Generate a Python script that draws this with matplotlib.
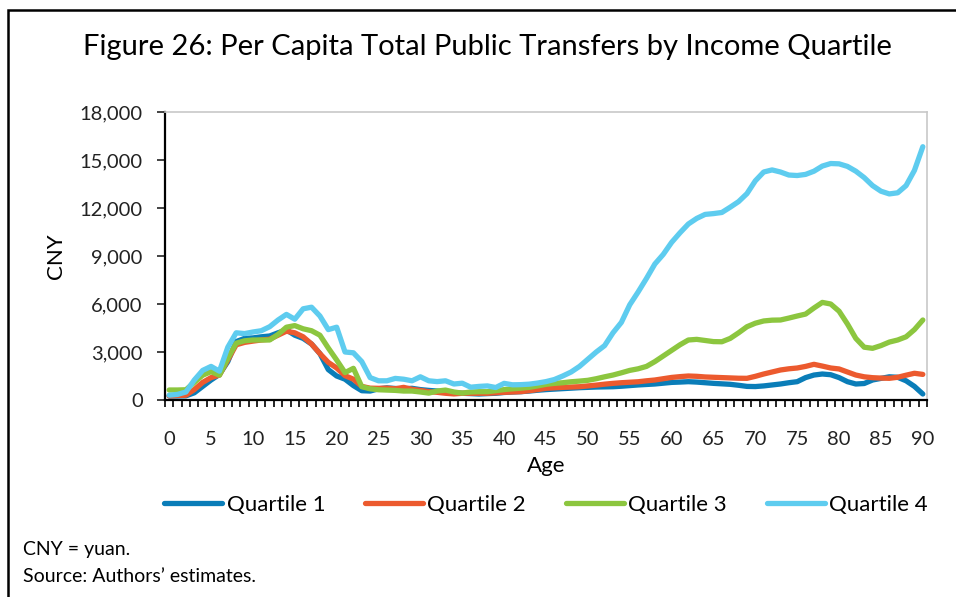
import matplotlib.pyplot as plt
from matplotlib.patches import Rectangle
from matplotlib.ticker import FuncFormatter, MultipleLocator

# per capita total public transfers (CNY) by age 0..90
ages = list(range(91))

quartile_1 = [250, 250, 260, 450, 850, 1250, 1600, 2400, 3650, 3850,
              3880, 3950, 4000, 4200, 4380, 4050, 3850, 3500, 2900, 1900,
              1500, 1300, 900, 580, 560, 700, 760, 720, 700, 730,
              650, 600, 560, 520, 460, 420, 400, 375, 400, 420,
              470, 500, 520, 560, 610, 650, 680, 710, 740, 770,
              790, 810, 820, 830, 860, 900, 940, 970, 1000, 1050,
              1100, 1120, 1145, 1120, 1080, 1040, 1010, 980, 920, 850,
              840, 880, 940, 1000, 1080, 1145, 1400, 1560, 1625, 1580,
              1400, 1145, 1000, 1030, 1250, 1350, 1450, 1420, 1200, 850,
              375]

quartile_2 = [250, 280, 300, 650, 1100, 1400, 1560, 2500, 3450, 3600,
              3680, 3750, 3800, 4050, 4300, 4200, 3950, 3500, 2900, 2350,
              2000, 1520, 1300, 850, 740, 730, 740, 700, 790, 670,
              600, 520, 480, 420, 380, 420, 420, 420, 420, 450,
              480, 500, 520, 580, 650, 730, 760, 790, 810, 830,
              880, 930, 990, 1040, 1080, 1110, 1140, 1200, 1250, 1330,
              1410, 1460, 1500, 1480, 1440, 1420, 1400, 1380, 1360, 1355,
              1480, 1625, 1750, 1875, 1950, 2000, 2100, 2230, 2120, 2000,
              1940, 1750, 1560, 1450, 1395, 1370, 1355, 1420, 1550, 1670,
              1600]

quartile_3 = [625, 625, 640, 1100, 1550, 1770, 1550, 2600, 3550, 3700,
              3750, 3750, 3750, 4100, 4550, 4650, 4450, 4330, 4050, 3250,
              2500, 1710, 1980, 830, 700, 640, 620, 600, 560, 560,
              500, 430, 560, 620, 500, 430, 500, 520, 520, 580,
              650, 700, 740, 790, 880, 980, 1040, 1080, 1140, 1180,
              1230, 1330, 1450, 1560, 1700, 1850, 1950, 2100, 2400, 2750,
              3100, 3450, 3750, 3790, 3720, 3650, 3640, 3850, 4200, 4580,
              4800, 4940, 4990, 5000, 5120, 5250, 5370, 5750, 6100, 6000,
              5550, 4750, 3850, 3300, 3230, 3400, 3620, 3750, 3950, 4400,
              5000]

quartile_4 = [300, 350, 500, 1250, 1850, 2100, 1800, 3300, 4200, 4150,
              4250, 4330, 4580, 5000, 5350, 5050, 5700, 5800, 5250, 4400,
              4550, 3000, 2950, 2400, 1400, 1200, 1200, 1350, 1300, 1200,
              1450, 1200, 1150, 1200, 1000, 1050, 800, 850, 880, 780,
              1040, 950, 960, 990, 1060, 1150, 1280, 1500, 1750, 2100,
              2550, 3000, 3400, 4200, 4850, 5950, 6750, 7600, 8500, 9100,
              9850, 10450, 11000, 11350, 11600, 11650, 11720, 12050, 12400, 12900,
              13700, 14250, 14380, 14250, 14060, 14030, 14100, 14300, 14620, 14780,
              14760, 14600, 14300, 13900, 13400, 13050, 12880, 12950, 13400, 14350,
              15830]

series = [quartile_1, quartile_2, quartile_3, quartile_4]
labels = ["Quartile 1", "Quartile 2", "Quartile 3", "Quartile 4"]
colors = ["#0A7DB8", "#EC5A2E", "#8CC63F", "#5ECCEF"]

plt.rcParams['font.family'] = ['Lato', 'DejaVu Sans']

fig = plt.figure(figsize=(9.56, 5.97), dpi=100)
ax = fig.add_axes([165 / 956, 1 - 400 / 597, (927 - 165) / 956, (400 - 112) / 597])

for vals, lab, col in zip(series, labels, colors):
    ax.plot(ages, vals, color=col, lw=3.8, label=lab, solid_capstyle='round')

ax.set_xlim(-0.5, 90.5)
ax.set_ylim(0, 18000)
ax.yaxis.set_major_locator(MultipleLocator(3000))
ax.yaxis.set_major_formatter(FuncFormatter(lambda v, p: f"{int(v):,}"))
ax.set_xticks(range(0, 91, 5))
ax.set_xticks([a - 0.5 for a in range(92)], minor=True)
ax.tick_params(axis='x', which='major', length=0, pad=22, labelsize=14.5, colors='#222222')
ax.tick_params(axis='x', which='minor', length=5, width=1.2, color='black')
ax.tick_params(axis='y', length=6, width=1.2, pad=10, labelsize=14.5, colors='#222222')

for s in ['top', 'right']:
    ax.spines[s].set_color('#c8c8c8')
    ax.spines[s].set_linewidth(1.2)
for s in ['left', 'bottom']:
    ax.spines[s].set_color('black')
    ax.spines[s].set_linewidth(1.6)

ax.set_ylabel("CNY", fontsize=16, labelpad=10)
ax.set_xlabel("Age", fontsize=16, labelpad=6)

ax.legend(loc='upper center', bbox_to_anchor=(0.5, -0.26), ncol=4, frameon=False,
          fontsize=16, handlelength=2.6, handletextpad=0.2, columnspacing=1.8)

fig.text(487 / 956, 1 - 47 / 597, "Figure 26: Per Capita Total Public Transfers by Income Quartile",
         ha='center', va='center', fontsize=21)
fig.text(23 / 956, 1 - 550 / 597, "CNY = yuan.", fontsize=14, va='center')
fig.text(23 / 956, 1 - 576 / 597, "Source: Authors\u2019 estimates.", fontsize=14, va='center')

# box around the figure (left and top edges visible)
fig.patches.append(Rectangle((8 / 956, -0.1), 1.2, 1 - 10 / 597 + 0.1, transform=fig.transFigure,
                             fill=False, edgecolor='black', lw=1.8))

fig.savefig("out.png", dpi=100)
